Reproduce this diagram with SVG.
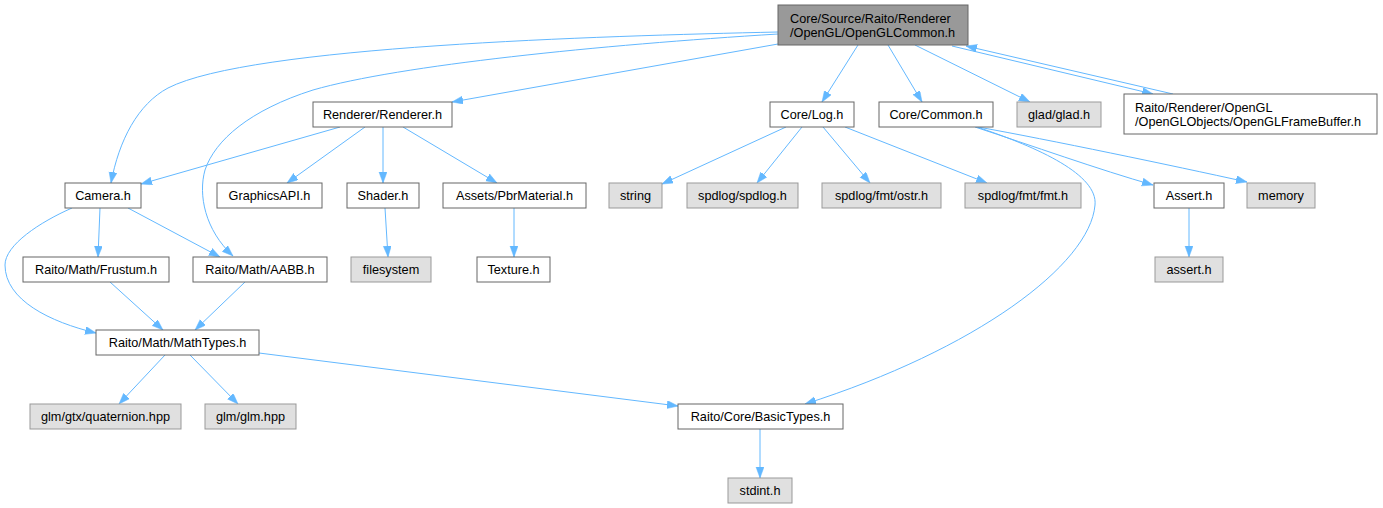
<svg xmlns="http://www.w3.org/2000/svg" width="1383" height="508" viewBox="0 0 1383 508">
<style>
.n rect{fill:#ffffff;stroke:#666666;stroke-width:1}
.g rect{fill:#e0e0e0;stroke:#999999;stroke-width:1}
.m rect{fill:#999999;stroke:#666666;stroke-width:1}
text{font-family:"Liberation Sans",Arial,Helvetica,sans-serif;font-size:12.7px;fill:#000000}
.c{text-anchor:middle}
#edges path{fill:none;stroke:#63b8ff;stroke-width:1;marker-end:url(#arr)}
</style>
<defs>
<marker id="arr" markerUnits="userSpaceOnUse" markerWidth="12" markerHeight="9" refX="11" refY="4" orient="auto">
<path d="M0,0 L11,4 L0,8 z" fill="#63b8ff" stroke="#63b8ff" stroke-width="0.5"/>
</marker>
</defs>
<rect width="1383" height="508" fill="#ffffff"/>
<g id="edges">
<path d="M778,32 C600,36 250,46 168,88 C138,104 119,140 111,183"/>
<path d="M778,34 C600,45 400,65 313,90 C250,110 215,140 205,170 C198,195 205,230 233,256"/>
<path d="M778,44 L452,102"/>
<path d="M858,45 L822,102"/>
<path d="M888,45 L922,102"/>
<path d="M915,45 L1030,102"/>
<path d="M952,46 L1153,94"/>
<path d="M1173,94 L966,46"/>
<path d="M340,127 L141,184"/>
<path d="M365,127 L287,183"/>
<path d="M383,127 L383,183"/>
<path d="M403,127 L497,183"/>
<path d="M514,208 L514,257"/>
<path d="M385,208 L388,257"/>
<path d="M100,208 L98,257"/>
<path d="M128,208 L220,257"/>
<path d="M72,208 C40,222 5,245 5,265 C5,300 50,322 96,333"/>
<path d="M110,282 L163,330"/>
<path d="M245,282 L195,330"/>
<path d="M165,355 L119,404"/>
<path d="M190,355 L238,404"/>
<path d="M259,353 L678,406"/>
<path d="M760,429 L760,478"/>
<path d="M977,127 C1040,148 1098,175 1095,205 C1090,265 975,350 805,404"/>
<path d="M975,127 C1030,145 1100,170 1153,185"/>
<path d="M978,127 C1050,140 1170,165 1247,182"/>
<path d="M786,127 L662,184"/>
<path d="M802,127 L757,183"/>
<path d="M823,127 L870,183"/>
<path d="M845,127 L987,183"/>
<path d="M1189,208 L1189,257"/>
</g>
<g id="main" class="m"><rect x="778" y="5" width="190" height="40"/><text x="790" y="22.5">Core/Source/Raito/Renderer</text><text x="790" y="36.5">/OpenGL/OpenGLCommon.h</text></g>
<g id="renderer" class="n"><rect x="313" y="102" width="139" height="25"/><text class="c" x="382.5" y="119">Renderer/Renderer.h</text></g>
<g id="log" class="n"><rect x="770" y="102" width="84" height="25"/><text class="c" x="812" y="119">Core/Log.h</text></g>
<g id="common" class="n"><rect x="879" y="102" width="114" height="25"/><text class="c" x="936" y="119">Core/Common.h</text></g>
<g id="glad" class="g"><rect x="1017" y="102" width="84" height="25"/><text class="c" x="1059" y="119">glad/glad.h</text></g>
<g id="framebuffer" class="n"><rect x="1124" y="94" width="253" height="40"/><text x="1135" y="111.5">Raito/Renderer/OpenGL</text><text x="1135" y="125.5">/OpenGLObjects/OpenGLFrameBuffer.h</text></g>
<g id="camera" class="n"><rect x="65" y="183" width="76" height="25"/><text class="c" x="103" y="200">Camera.h</text></g>
<g id="graphicsapi" class="n"><rect x="217" y="183" width="105" height="25"/><text class="c" x="269.5" y="200">GraphicsAPI.h</text></g>
<g id="shader" class="n"><rect x="347" y="183" width="72" height="25"/><text class="c" x="383" y="200">Shader.h</text></g>
<g id="pbrmaterial" class="n"><rect x="443" y="183" width="143" height="25"/><text class="c" x="514.5" y="200">Assets/PbrMaterial.h</text></g>
<g id="string" class="g"><rect x="609" y="183" width="53" height="25"/><text class="c" x="635.5" y="200">string</text></g>
<g id="spdlog" class="g"><rect x="687" y="183" width="111" height="25"/><text class="c" x="742.5" y="200">spdlog/spdlog.h</text></g>
<g id="ostr" class="g"><rect x="822" y="183" width="119" height="25"/><text class="c" x="881.5" y="200">spdlog/fmt/ostr.h</text></g>
<g id="fmt" class="g"><rect x="965" y="183" width="116" height="25"/><text class="c" x="1023" y="200">spdlog/fmt/fmt.h</text></g>
<g id="assert" class="n"><rect x="1154" y="183" width="70" height="25"/><text class="c" x="1189" y="200">Assert.h</text></g>
<g id="memory" class="g"><rect x="1247" y="183" width="68" height="25"/><text class="c" x="1281" y="200">memory</text></g>
<g id="frustum" class="n"><rect x="23" y="257" width="146" height="25"/><text class="c" x="96" y="274">Raito/Math/Frustum.h</text></g>
<g id="aabb" class="n"><rect x="193" y="257" width="134" height="25"/><text class="c" x="260" y="274">Raito/Math/AABB.h</text></g>
<g id="filesystem" class="g"><rect x="351" y="257" width="80" height="25"/><text class="c" x="391" y="274">filesystem</text></g>
<g id="texture" class="n"><rect x="477" y="257" width="73" height="25"/><text class="c" x="513.5" y="274">Texture.h</text></g>
<g id="asserth" class="g"><rect x="1155" y="257" width="68" height="25"/><text class="c" x="1189" y="274">assert.h</text></g>
<g id="mathtypes" class="n"><rect x="96" y="330" width="163" height="25"/><text class="c" x="177.5" y="347">Raito/Math/MathTypes.h</text></g>
<g id="quaternion" class="g"><rect x="30" y="404" width="151" height="25"/><text class="c" x="105.5" y="421">glm/gtx/quaternion.hpp</text></g>
<g id="glm" class="g"><rect x="205" y="404" width="91" height="25"/><text class="c" x="250.5" y="421">glm/glm.hpp</text></g>
<g id="basictypes" class="n"><rect x="678" y="404" width="165" height="25"/><text class="c" x="760.5" y="421">Raito/Core/BasicTypes.h</text></g>
<g id="stdint" class="g"><rect x="728" y="478" width="64" height="25"/><text class="c" x="760" y="495">stdint.h</text></g>
</svg>
